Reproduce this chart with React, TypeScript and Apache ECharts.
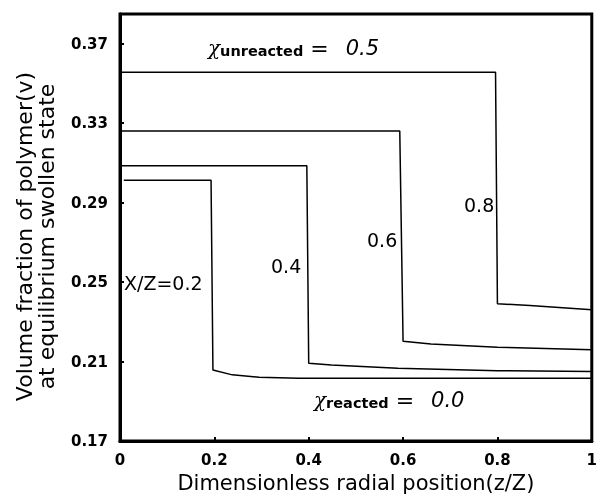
import React, { useEffect, useRef } from "react";
import * as echarts from "echarts";

const xTicks = [0, 0.2, 0.4, 0.6, 0.8, 1];
const yTicks = [0.17, 0.21, 0.25, 0.29, 0.33, 0.37];

const curve02: [number, number][] = [
  [0.008, 0.3013], [0.193, 0.3013], [0.197, 0.2058], [0.238, 0.2033],
  [0.295, 0.2021], [0.379, 0.2016], [1.0, 0.2016],
];
const curve04: [number, number][] = [
  [0.0, 0.3086], [0.396, 0.3086], [0.4, 0.2092], [0.448, 0.2083],
  [0.589, 0.2066], [0.8, 0.2054], [1.0, 0.205],
];
const curve06: [number, number][] = [
  [0.0, 0.3261], [0.593, 0.3261], [0.6, 0.2202], [0.659, 0.2189],
  [0.8, 0.2172], [1.0, 0.216],
];
const curve08: [number, number][] = [
  [0.0, 0.3557], [0.796, 0.3557], [0.8, 0.2391], [0.869, 0.2382],
  [1.0, 0.2361],
];

const seriesNames = ["X/Z=0.2", "0.4", "0.6", "0.8"];
const seriesData = [curve02, curve04, curve06, curve08];

const FONT = "DejaVu Sans";

export default function App() {
  const ref = useRef<HTMLDivElement>(null);
  useEffect(() => {
    if (!ref.current) return;
    document.body.style.margin = "0";
    const chart = echarts.init(ref.current, null, { renderer: "svg" });
    const labelText = (text: string, x: number, y: number) => ({
      type: "text",
      x,
      y,
      style: {
        text,
        fontFamily: FONT,
        fontSize: 19,
        fill: "#000",
        align: "left",
        verticalAlign: "middle",
      },
    });
    const chiText = (sub: string, val: string, x: number, y: number) => ({
      type: "text",
      x,
      y,
      style: {
        text: `{chi|χ}{sub|${sub}}{eq|=}{val|${val}}`,
        fill: "#000",
        verticalAlign: "middle",
        rich: {
          chi: { fontFamily: "DejaVu Serif", fontStyle: "italic", fontSize: 20, fill: "#000" },
          sub: { fontFamily: FONT, fontWeight: "bold", fontSize: 14.5, fill: "#000", padding: [5, 0, 0, 0] },
          eq: { fontFamily: FONT, fontSize: 22, fill: "#000", padding: [0, 17, 0, 7] },
          val: { fontFamily: FONT, fontStyle: "italic", fontSize: 21, fill: "#000" },
        },
      },
    });
    chart.setOption({
      animation: false,
      grid: {
        left: 120,
        right: 4,
        top: 14,
        bottom: 59,
        show: true,
        borderColor: "#000",
        borderWidth: 3,
      },
      xAxis: {
        type: "value",
        min: 0,
        max: 1,
        interval: 0.2,
        name: "Dimensionless radial position(z/Z)",
        nameLocation: "middle",
        nameGap: 31,
        nameTextStyle: { fontFamily: FONT, fontSize: 21, color: "#000" },
        axisLine: { show: true, lineStyle: { color: "#000", width: 3 } },
        axisTick: { show: true, inside: true, length: 4, lineStyle: { color: "#000", width: 2 } },
        axisLabel: {
          fontFamily: FONT,
          fontWeight: "bold",
          fontSize: 15,
          color: "#000",
          margin: 11,
          customValues: xTicks,
          formatter: (v: number) => String(v),
        },
        splitLine: { show: false },
      },
      yAxis: {
        type: "value",
        min: 0.17,
        max: 0.385,
        name: "Volume fraction of polymer(v)\nat equilibrium swollen state",
        nameLocation: "middle",
        nameGap: 63,
        nameRotate: 90,
        nameTextStyle: { fontFamily: FONT, fontSize: 22, color: "#000", lineHeight: 22, padding: [0, 18, 0, 0] },
        axisLine: { show: true, lineStyle: { color: "#000", width: 3 } },
        axisTick: { show: true, inside: true, length: 4, customValues: yTicks, lineStyle: { color: "#000", width: 2 } },
        axisLabel: {
          fontFamily: FONT,
          fontWeight: "bold",
          fontSize: 15,
          color: "#000",
          margin: 12,
          customValues: yTicks,
          formatter: (v: number) => v.toFixed(2),
        },
        splitLine: { show: false },
      },
      series: seriesData.map((d, i) => ({
        type: "line",
        name: seriesNames[i],
        data: d,
        showSymbol: false,
        symbol: "none",
        lineStyle: { color: "#000", width: 1.5 },
        z: 1,
      })),
      graphic: [
        chiText("unreacted", "0.5", 208, 48),
        chiText("reacted", "0.0", 314, 400),
        labelText("0.8", 464, 205),
        labelText("0.6", 367, 240),
        labelText("0.4", 271, 266),
        labelText("X/Z=0.2", 124, 283),
      ],
    });
    return () => chart.dispose();
  }, []);
  return <div ref={ref} style={{ position: "fixed", left: 0, top: 0, width: 600, height: 500 }} />;
}
